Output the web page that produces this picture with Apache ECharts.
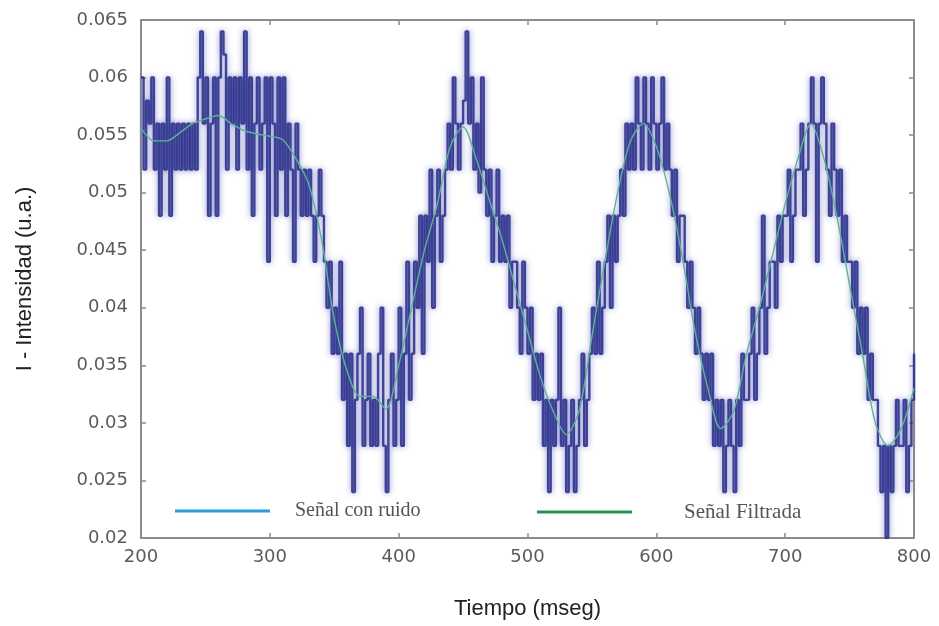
<!DOCTYPE html>
<html>
<head>
<meta charset="utf-8">
<script src="https://cdn.jsdelivr.net/npm/echarts@6/dist/echarts.min.js"></script>
<style>html,body{margin:0;padding:0;background:#fff;}#chart{width:939px;height:626px;}</style>
</head>
<body>
<div id="chart"></div>
<script>
// Axis ticks
const xTicks = [200, 300, 400, 500, 600, 700, 800];
const yTicks = [0.02, 0.025, 0.03, 0.035, 0.04, 0.045, 0.05, 0.055, 0.06, 0.065];

// Noisy signal: sampled every 2 ms starting at 200 ms
const noiseStart = 200;
const noiseStep = 2;
const noiseValues = [
  0.060,0.052,0.058,0.056,0.060, 0.052,0.056,0.048,0.056,0.052,
  0.060,0.048,0.056,0.052,0.056, 0.052,0.056,0.052,0.056,0.052,
  0.056,0.052,0.060,0.064,0.056, 0.060,0.048,0.056,0.060,0.048,
  0.060,0.064,0.062,0.052,0.060, 0.056,0.060,0.052,0.060,0.056,
  0.064,0.052,0.060,0.048,0.056, 0.060,0.052,0.056,0.060,0.044,
  0.060,0.056,0.048,0.060,0.052, 0.060,0.048,0.056,0.052,0.044,
  0.056,0.052,0.048,0.052,0.048, 0.052,0.048,0.044,0.048,0.052,
  0.048,0.044,0.040,0.044,0.036, 0.040,0.036,0.044,0.032,0.036,
  0.028,0.036,0.024,0.032,0.036, 0.040,0.028,0.032,0.036,0.028,
  0.032,0.028,0.036,0.040,0.028, 0.024,0.032,0.036,0.028,0.032,
  0.040,0.028,0.036,0.044,0.032, 0.036,0.044,0.040,0.048,0.036,
  0.048,0.044,0.052,0.040,0.048, 0.052,0.044,0.048,0.052,0.056,
  0.052,0.060,0.056,0.052,0.056, 0.058,0.064,0.056,0.060,0.052,
  0.056,0.050,0.060,0.052,0.048, 0.052,0.044,0.048,0.052,0.044,
  0.048,0.044,0.048,0.040,0.044, 0.044,0.040,0.036,0.044,0.040,
  0.036,0.040,0.032,0.036,0.032, 0.036,0.028,0.032,0.024,0.032,
  0.028,0.032,0.040,0.028,0.032, 0.024,0.028,0.032,0.024,0.028,
  0.032,0.036,0.028,0.032,0.036, 0.040,0.036,0.044,0.036,0.040,
  0.044,0.048,0.040,0.048,0.044, 0.048,0.052,0.048,0.056,0.052,
  0.056,0.052,0.060,0.056,0.052, 0.060,0.056,0.052,0.060,0.056,
  0.052,0.056,0.060,0.052,0.056, 0.052,0.048,0.052,0.044,0.048,
  0.048,0.044,0.040,0.044,0.040, 0.036,0.040,0.036,0.032,0.036,
  0.032,0.036,0.028,0.032,0.028, 0.032,0.024,0.028,0.032,0.028,
  0.024,0.032,0.028,0.036,0.032, 0.032,0.036,0.040,0.032,0.036,
  0.040,0.048,0.036,0.040,0.044, 0.044,0.040,0.048,0.044,0.048,
  0.048,0.052,0.044,0.048,0.052, 0.052,0.056,0.048,0.052,0.056,
  0.060,0.056,0.044,0.056,0.060, 0.056,0.052,0.048,0.056,0.052,
  0.048,0.052,0.044,0.048,0.044, 0.044,0.040,0.044,0.036,0.040,
  0.036,0.040,0.032,0.036,0.032, 0.032,0.028,0.024,0.028,0.020,
  0.028,0.024,0.028,0.032,0.028, 0.028,0.032,0.024,0.028,0.032,
  0.036
];

// Filtered signal: every 10 ms starting at 200 ms
const filtStart = 200;
const filtStep = 10;
const filtValues = [
  0.0556,0.0545,0.0545,0.0552,0.0560,0.0564,0.0567,0.0560,0.0554,0.0551,
  0.0549,0.0546,0.0530,0.0508,0.0460,0.0390,0.0345,0.0323,0.0323,0.0312,
  0.0350,0.0400,0.0450,0.0490,0.0540,0.0557,0.0530,0.0495,0.0460,0.0420,
  0.0380,0.0340,0.0310,0.0290,0.0310,0.0375,0.0440,0.0500,0.0545,0.0560,
  0.0540,0.0500,0.0445,0.0380,0.0330,0.0295,0.0310,0.0360,0.0400,0.0445,
  0.0490,0.0530,0.0560,0.0530,0.0480,0.0420,0.0360,0.0300,0.0280,0.0295,
  0.0330
];

const seriesNames = ['Señal con ruido', 'Señal Filtrada'];

const noiseData = noiseValues.map((v, i) => [noiseStart + i * noiseStep, v]);
const filtData = filtValues.map((v, i) => [filtStart + i * filtStep, v]);

const axisGray = '#8c8c8c';
const labelGray = '#5a5a5a';

const chart = echarts.init(document.getElementById('chart'), null, {renderer: 'canvas'});
chart.setOption({
  animation: false,
  backgroundColor: '#ffffff',
  grid: {left: 141, right: 25, top: 20, bottom: 88, containLabel: false},
  legend: [
    {
      data: [{name: seriesNames[0], itemStyle: {color: '#2b9bd6'}, lineStyle: {color: '#2b9bd6'}}],
      left: 175, top: 499, padding: 0,
      icon: 'rect', itemWidth: 95, itemHeight: 3,
      textStyle: {fontFamily: 'Liberation Serif', fontSize: 20, color: '#555', padding: [0, 0, 0, 20], lineHeight: 24},
      selectedMode: false
    },
    {
      data: [{name: seriesNames[1], itemStyle: {color: '#1f9a4c'}, lineStyle: {color: '#1f9a4c'}}],
      left: 537, top: 500, padding: 0,
      icon: 'rect', itemWidth: 95, itemHeight: 3,
      textStyle: {fontFamily: 'Liberation Serif', fontSize: 21, color: '#555', padding: [0, 0, 0, 47], lineHeight: 24},
      selectedMode: false
    }
  ],
  xAxis: [
    {
      type: 'value', min: xTicks[0], max: xTicks[xTicks.length - 1], interval: 100,
      position: 'bottom',
      name: 'Tiempo (mseg)', nameLocation: 'middle', nameGap: 60,
      nameTextStyle: {fontFamily: 'Liberation Sans', fontSize: 22, color: '#222'},
      axisLine: {show: true, lineStyle: {color: axisGray, width: 2}},
      axisTick: {show: true, inside: true, length: 5, lineStyle: {color: axisGray, width: 1.5}},
      axisLabel: {fontFamily: 'DejaVu Sans', fontSize: 18, color: labelGray, margin: 10},
      splitLine: {show: false}
    },
    {
      type: 'value', min: xTicks[0], max: xTicks[xTicks.length - 1], interval: 100,
      position: 'top',
      axisLine: {show: true, lineStyle: {color: axisGray, width: 2}},
      axisTick: {show: true, inside: true, length: 5, lineStyle: {color: axisGray, width: 1.5}},
      axisLabel: {show: false},
      splitLine: {show: false}
    }
  ],
  yAxis: [
    {
      type: 'value', min: yTicks[0], max: yTicks[yTicks.length - 1], interval: 0.005,
      position: 'left',
      name: 'I - Intensidad (u.a.)', nameLocation: 'middle', nameGap: 105,
      nameTextStyle: {fontFamily: 'Liberation Sans', fontSize: 22, color: '#222'},
      axisLine: {show: true, lineStyle: {color: axisGray, width: 2}},
      axisTick: {show: true, inside: true, length: 5, lineStyle: {color: axisGray, width: 1.5}},
      axisLabel: {fontFamily: 'DejaVu Sans', fontSize: 18, color: labelGray, margin: 13,
        formatter: v => String(parseFloat(v.toFixed(3)))},
      splitLine: {show: false}
    },
    {
      type: 'value', min: yTicks[0], max: yTicks[yTicks.length - 1], interval: 0.005,
      position: 'right',
      axisLine: {show: true, lineStyle: {color: axisGray, width: 2}},
      axisTick: {show: true, inside: true, length: 5, lineStyle: {color: axisGray, width: 1.5}},
      axisLabel: {show: false},
      splitLine: {show: false}
    }
  ],
  series: [
    {
      name: seriesNames[0], type: 'line', step: 'end', data: noiseData,
      xAxisIndex: 0, yAxisIndex: 0,
      showSymbol: false, symbol: 'none',
      lineStyle: {color: '#2e338c', width: 2.4, opacity: 0.9,
        shadowColor: 'rgba(110,112,195,0.85)', shadowBlur: 6},
      itemStyle: {color: '#2b9bd6'},
      z: 2
    },
    {
      name: seriesNames[1], type: 'line', data: filtData,
      xAxisIndex: 0, yAxisIndex: 0,
      showSymbol: false, symbol: 'none', smooth: 0.3,
      lineStyle: {color: '#5cb394', width: 1.4},
      itemStyle: {color: '#1f9a4c'},
      z: 3
    }
  ]
});
</script>
</body>
</html>
